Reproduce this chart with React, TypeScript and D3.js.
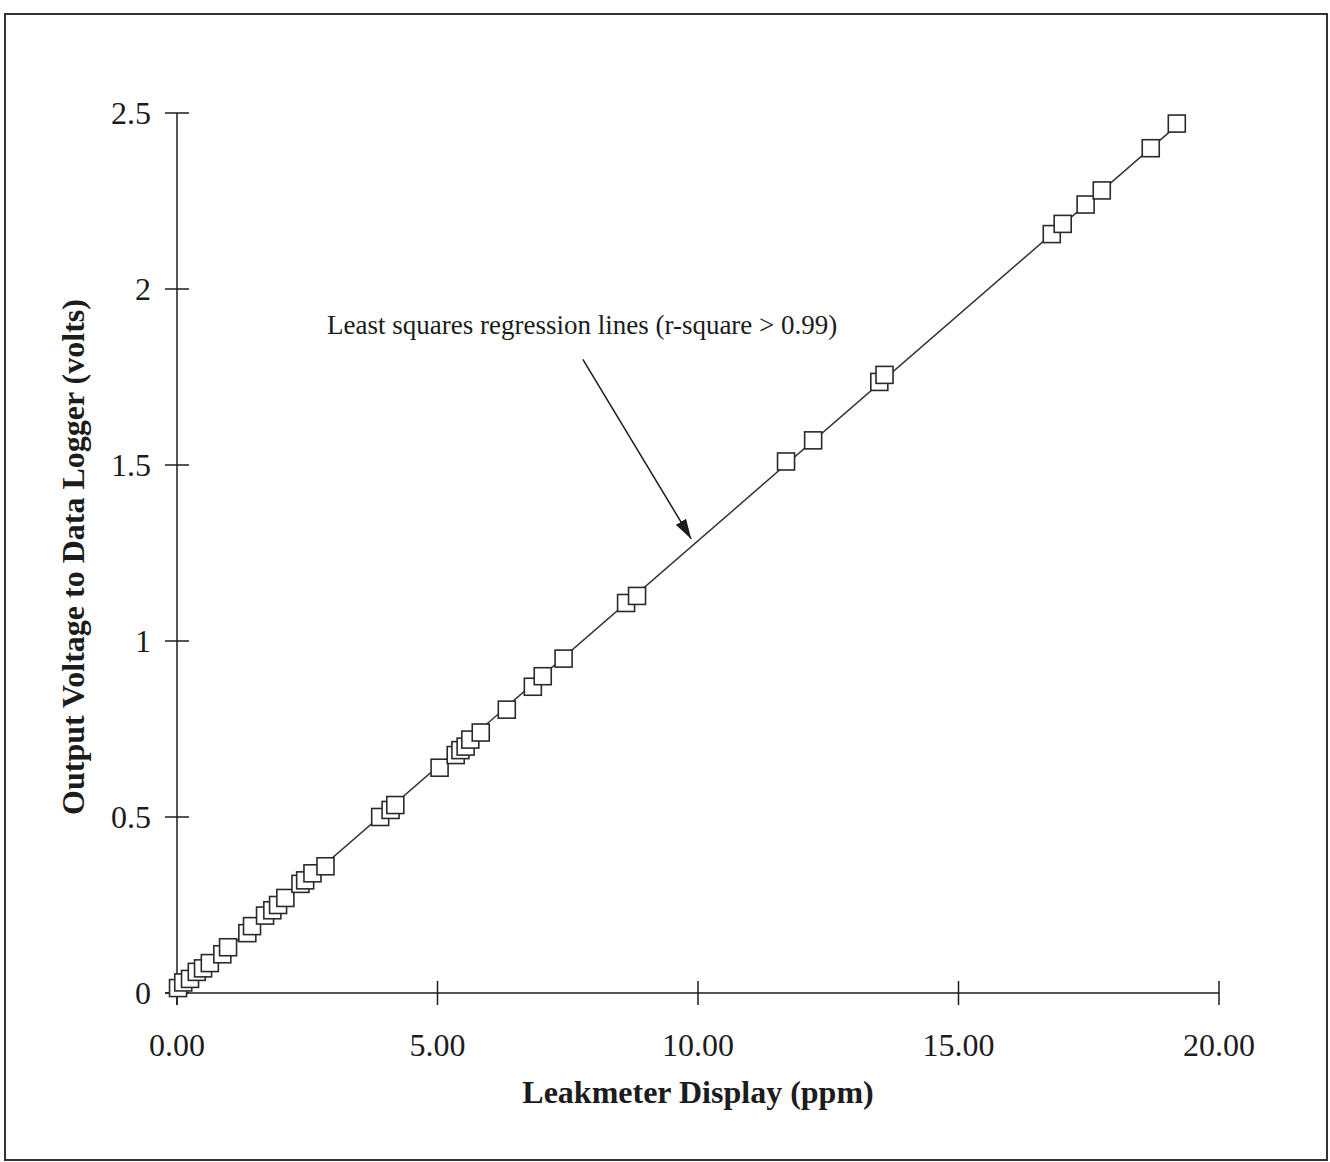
import React from 'react'
import * as d3 from 'd3'

// readings
const leakPpm = [
  0.02, 0.12, 0.25, 0.38, 0.5, 0.63, 0.87, 0.98, 1.35, 1.44, 1.69, 1.83, 1.94, 2.08, 2.37,
  2.46, 2.6, 2.85, 3.9, 4.1, 4.19, 5.04, 5.35, 5.44, 5.54, 5.63, 5.83, 6.33, 6.83, 7.02,
  7.42, 8.62, 8.83, 11.69, 12.21, 13.48, 13.58, 16.79, 17.0, 17.44, 17.75, 18.69, 19.19,
]
const outputVolts = [
  0.014, 0.03, 0.04, 0.06, 0.07, 0.085, 0.11, 0.13, 0.17, 0.19, 0.22, 0.235, 0.25, 0.27,
  0.31, 0.32, 0.34, 0.36, 0.5, 0.52, 0.534, 0.64, 0.676, 0.69, 0.7, 0.72, 0.74, 0.805,
  0.87, 0.9, 0.95, 1.108, 1.128, 1.51, 1.57, 1.736, 1.756, 2.156, 2.185, 2.24, 2.28, 2.4,
  2.47,
]
const xTicks = [0, 5, 10, 15, 20]
const yTicks = [0, 0.5, 1, 1.5, 2, 2.5]

const annotation = 'Least squares regression lines (r-square > 0.99)'

const W = 1330
const H = 1162
const font = '"Liberation Serif", "Times New Roman", serif'
const ink = '#1c1c1c'

const App = () => {
  const x = d3.scaleLinear().domain([0, 20]).range([177, 1219])
  const y = d3.scaleLinear().domain([0, 2.5]).range([993, 113])

  const points = leakPpm.map((v, i) => ({ ppm: v, volts: outputVolts[i] }))

  // least squares fit
  const mx = d3.mean(leakPpm) as number
  const my = d3.mean(outputVolts) as number
  const sxy = d3.sum(points, d => (d.ppm - mx) * (d.volts - my))
  const sxx = d3.sum(points, d => (d.ppm - mx) ** 2)
  const slope = sxy / sxx
  const icpt = my - slope * mx
  const [x0, x1] = d3.extent(leakPpm) as [number, number]
  const fit = d3
    .line<number>()
    .x(d => x(d))
    .y(d => y(icpt + slope * d))([x0, x1])

  const tick = 12
  const sq = 17

  return (
    <svg
      width={W}
      height={H}
      style={{ position: 'absolute', left: 0, top: 0, background: '#fff' }}
      fontFamily={font}
    >
      <defs>
        <marker
          id="head"
          viewBox="0 0 20 12"
          refX="20"
          refY="6"
          markerWidth="20"
          markerHeight="12"
          orient="auto"
          markerUnits="userSpaceOnUse"
        >
          <path d="M0,0 L20,6 L0,12 Z" fill={ink} />
        </marker>
      </defs>

      {/* scan frame */}
      <rect x={5} y={14} width={1322} height={1146} fill="none" stroke="#333" strokeWidth={2} />

      {/* y axis */}
      <line x1={x(0)} x2={x(0)} y1={y(2.5)} y2={y(0) + tick} stroke={ink} strokeWidth={1.5} />
      {yTicks.map(t => (
        <g key={'y' + t}>
          <line x1={x(0) - tick} x2={x(0) + tick} y1={y(t)} y2={y(t)} stroke={ink} strokeWidth={1.5} />
          <text
            x={x(0) - 26}
            y={y(t)}
            dy="0.35em"
            textAnchor="end"
            fontSize={32}
            fill={ink}
          >
            {String(t)}
          </text>
        </g>
      ))}

      {/* x axis */}
      <line x1={x(0) - tick} x2={x(20)} y1={y(0)} y2={y(0)} stroke={ink} strokeWidth={1.5} />
      {xTicks.map(t => (
        <g key={'x' + t}>
          <line x1={x(t)} x2={x(t)} y1={y(0) - tick} y2={y(0) + tick} stroke={ink} strokeWidth={1.5} />
          <text x={x(t)} y={1056} textAnchor="middle" fontSize={32} fill={ink}>
            {d3.format('.2f')(t)}
          </text>
        </g>
      ))}

      {/* regression line */}
      <path d={fit ?? ''} fill="none" stroke="#333" strokeWidth={1.5} />

      {/* data */}
      {points.map((d, i) => (
        <rect
          key={i}
          x={x(d.ppm) - sq / 2}
          y={y(d.volts) - sq / 2}
          width={sq}
          height={sq}
          fill="#fff"
          stroke="#2a2a2a"
          strokeWidth={1.6}
        />
      ))}

      {/* annotation */}
      <text x={x(2.88)} y={y(1.9)} dy="0.35em" fontSize={27} fill={ink}>
        {annotation}
      </text>
      <line
        x1={x(7.79)}
        y1={y(1.8)}
        x2={x(9.87)}
        y2={y(1.29)}
        stroke={ink}
        strokeWidth={1.5}
        markerEnd="url(#head)"
      />

      {/* axis titles */}
      <text x={698} y={1092} dy="0.35em" textAnchor="middle" fontSize={32} fontWeight="bold" fill={ink}>
        Leakmeter Display (ppm)
      </text>
      <text
        transform="translate(73,557) rotate(-90)"
        dy="0.35em"
        textAnchor="middle"
        fontSize={32}
        fontWeight="bold"
        fill={ink}
      >
        Output Voltage to Data Logger (volts)
      </text>
    </svg>
  )
}

export default App
